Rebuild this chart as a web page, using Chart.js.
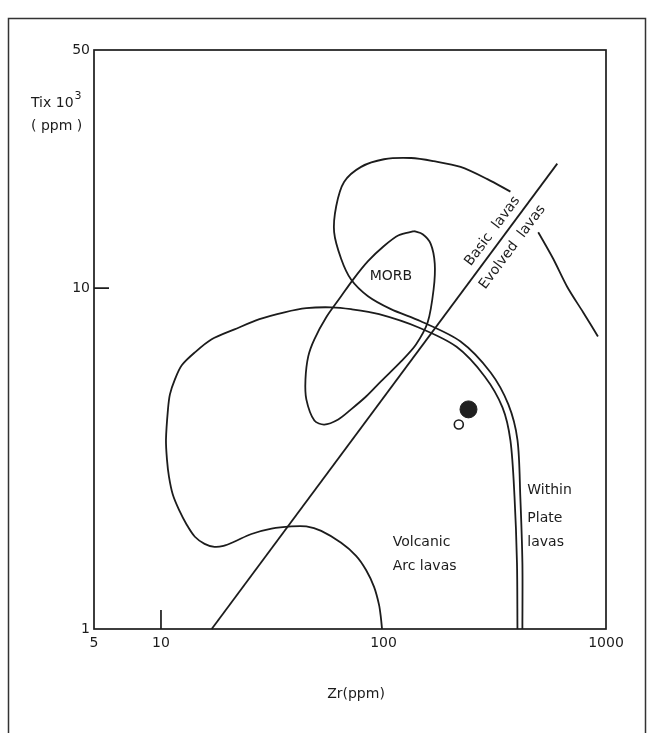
<!DOCTYPE html>
<html>
<head>
<meta charset="utf-8">
<script src="https://cdn.jsdelivr.net/npm/chart.js@4.4.1/dist/chart.umd.min.js"></script>
<style>
  html, body { margin: 0; padding: 0; background: #ffffff; }
  #c { display: block; }
</style>
</head>
<body>
<canvas id="c" width="657" height="733"></canvas>
<script>
// ---------- data (Zr in ppm, Ti x 10^3 in ppm) ----------
const xTicks = [5, 10, 100, 1000];
const yTicks = [1, 10, 50];

// Within-plate / volcanic-arc boundary (inner line of the double curve)
const innerZr = [400, 398, 388, 372, 342.5, 285, 213, 143, 95.5, 71.5, 58.2, 45.0, 35.9, 27.7, 21.4, 16.9, 14.2, 12.4, 11.55, 10.97, 10.75, 10.53, 10.64, 10.86, 11.3, 12.04, 13.07, 14.2, 15.7, 17.4, 19.1, 21.2, 25.5, 31.4, 38.5, 45.0, 52.5, 64.5, 75.3, 83.5, 90.7, 95.5, 97.4, 98.5];
const innerTi = [1, 1.564, 2.445, 3.57, 4.47, 5.51, 6.73, 7.68, 8.39, 8.68, 8.79, 8.74, 8.50, 8.11, 7.57, 7.08, 6.48, 5.94, 5.40, 4.88, 4.41, 3.59, 3.14, 2.80, 2.48, 2.24, 2.02, 1.865, 1.778, 1.742, 1.754, 1.80, 1.90, 1.97, 2.0, 2.0, 1.94, 1.79, 1.64, 1.49, 1.329, 1.177, 1.077, 1];

// Upper loop continuing as the outer line of the double curve
const outerZr = [372, 293, 222, 168, 133, 100.5, 79.3, 66.5, 61.3, 60.0, 64.5, 71.5, 85.2, 108, 147, 222, 303, 364, 400, 412, 421, 421];
const outerTi = [19.2, 20.9, 22.7, 23.6, 24.1, 23.9, 22.7, 20.5, 17.4, 14.6, 12.2, 10.6, 9.47, 8.68, 8.0, 6.98, 5.66, 4.56, 3.59, 2.445, 1.564, 1];

// MORB field
const morbZr = [137, 150, 163, 170, 168, 158, 140, 120, 97.4, 83.5, 71.5, 62.6, 54.2, 48.9, 45.0, 44.6, 45.9, 48.9, 55.3, 64.5, 73.0, 85.2, 100.5, 117, 137];
const morbTi = [14.7, 14.4, 13.5, 11.8, 9.93, 7.94, 6.84, 6.10, 5.33, 4.81, 4.41, 4.12, 3.98, 4.09, 4.72, 5.40, 6.31, 7.08, 8.22, 9.47, 10.6, 12.0, 13.3, 14.3, 14.7];

// Right-hand curve
const rightZr = [496, 579, 669, 789, 920];
const rightTi = [14.6, 12.2, 10.1, 8.5, 7.22];

// Basic / evolved lavas divider
const dividerZr = [16.9, 604];
const dividerTi = [1, 23.2];

// Samples
const sampleFilledZr = [241];
const sampleFilledTi = [4.41];
const sampleOpenZr = [218];
const sampleOpenTi = [3.98];

// ---------- helpers ----------
const zip = (xs, ys) => xs.map((x, i) => ({ x: x, y: ys[i] }));
const INK = '#1c1c1c';
const FONT = '"DejaVu Sans", "Liberation Sans", sans-serif';

function curve(xs, ys) {
  return {
    data: zip(xs, ys), showLine: true, borderColor: INK, borderWidth: 1.8,
    pointRadius: 0, tension: 0.3, fill: false, clip: false
  };
}

// annotation labels anchored to data coordinates
const labels = [
  { text: 'MORB', zr: 108, ti: 10.85, align: 'center' },
  { text: 'Volcanic', zr: 110, ti: 1.79, align: 'left' },
  { text: 'Arc lavas', zr: 110, ti: 1.53, align: 'left' },
  { text: 'Within', zr: 443, ti: 2.56, align: 'left' },
  { text: 'Plate', zr: 443, ti: 2.11, align: 'left' },
  { text: 'lavas', zr: 443, ti: 1.80, align: 'left' }
];
const rotLabels = [
  { text: 'Basic  lavas', zr: 309, ti: 14.7 },
  { text: 'Evolved  lavas', zr: 380, ti: 13.2 }
];

const decor = {
  id: 'decor',
  beforeDatasetsDraw(chart) {
    const { ctx, chartArea: a, scales } = chart;
    ctx.save();
    // outer frame of figure
    ctx.strokeStyle = '#333';
    ctx.lineWidth = 1.5;
    ctx.beginPath();
    ctx.moveTo(8.5, 740); ctx.lineTo(8.5, 18.5); ctx.lineTo(645.5, 18.5); ctx.lineTo(645.5, 740);
    ctx.stroke();
    // plot box
    ctx.strokeStyle = INK;
    ctx.lineWidth = 1.7;
    ctx.strokeRect(a.left, a.top, a.right - a.left, a.bottom - a.top);
    // inner tick marks at 10
    const x10 = scales.x.getPixelForValue(10);
    const y10 = scales.y.getPixelForValue(10);
    ctx.beginPath();
    ctx.moveTo(x10, a.bottom); ctx.lineTo(x10, a.bottom - 19);
    ctx.moveTo(a.left, y10); ctx.lineTo(a.left + 15, y10);
    ctx.stroke();
    ctx.restore();
  },
  afterDatasetsDraw(chart) {
    const { ctx, chartArea: a, scales } = chart;
    ctx.save();
    ctx.fillStyle = INK;
    ctx.font = '14px ' + FONT;
    ctx.textBaseline = 'middle';
    labels.forEach(l => {
      ctx.textAlign = l.align;
      ctx.fillText(l.text, scales.x.getPixelForValue(l.zr), scales.y.getPixelForValue(l.ti));
    });
    // rotated labels along the divider
    const px1 = scales.x.getPixelForValue(dividerZr[0]), py1 = scales.y.getPixelForValue(dividerTi[0]);
    const px2 = scales.x.getPixelForValue(dividerZr[1]), py2 = scales.y.getPixelForValue(dividerTi[1]);
    const ang = Math.atan2(py2 - py1, px2 - px1);
    rotLabels.forEach(l => {
      ctx.save();
      ctx.translate(scales.x.getPixelForValue(l.zr), scales.y.getPixelForValue(l.ti));
      ctx.rotate(ang);
      ctx.textAlign = 'center';
      ctx.fillText(l.text, 0, 0);
      ctx.restore();
    });
    // axis titles
    ctx.textAlign = 'left';
    ctx.textBaseline = 'alphabetic';
    ctx.font = '14px ' + FONT;
    ctx.fillText('Tix 10', 31, 107);
    const w = ctx.measureText('Tix 10').width;
    ctx.font = '11px ' + FONT;
    ctx.fillText('3', 31 + w + 1, 99);
    ctx.font = '14px ' + FONT;
    ctx.fillText('( ppm )', 31, 130);
    ctx.textAlign = 'center';
    ctx.fillText('Zr(ppm)', (a.left + a.right) / 2 + 6, 698);
    ctx.restore();
  }
};

new Chart(document.getElementById('c'), {
  type: 'scatter',
  data: {
    datasets: [
      curve(innerZr, innerTi),
      curve(outerZr, outerTi),
      curve(morbZr, morbTi),
      curve(rightZr, rightTi),
      Object.assign(curve(dividerZr, dividerTi), { tension: 0 }),
      { data: zip(sampleOpenZr, sampleOpenTi), pointRadius: 4.5, backgroundColor: '#ffffff',
        borderColor: INK, borderWidth: 1.6, showLine: false },
      { data: zip(sampleFilledZr, sampleFilledTi), pointRadius: 8.5, backgroundColor: '#202020',
        borderColor: '#202020', borderWidth: 1, showLine: false }
    ]
  },
  options: {
    responsive: false,
    animation: false,
    devicePixelRatio: 1,
    layout: { padding: { left: 54, right: 51, top: 50, bottom: 74 } },
    plugins: { legend: { display: false }, tooltip: { enabled: false } },
    scales: {
      x: {
        type: 'logarithmic', min: 5, max: 1000,
        grid: { display: false, drawTicks: false },
        border: { display: false },
        ticks: { color: INK, font: { family: FONT, size: 14 }, padding: 6, autoSkip: false,
                 maxRotation: 0, callback: v => String(v) },
        afterBuildTicks: s => { s.ticks = xTicks.map(v => ({ value: v })); },
        afterFit: s => { s.height = 30; }
      },
      y: {
        type: 'logarithmic', min: 1, max: 50,
        grid: { display: false, drawTicks: false },
        border: { display: false },
        ticks: { color: INK, font: { family: FONT, size: 14 }, padding: 4, autoSkip: false,
                 callback: v => String(v) },
        afterBuildTicks: s => { s.ticks = yTicks.map(v => ({ value: v })); },
        afterFit: s => { s.width = 40; }
      }
    }
  },
  plugins: [decor]
});
</script>
</body>
</html>
